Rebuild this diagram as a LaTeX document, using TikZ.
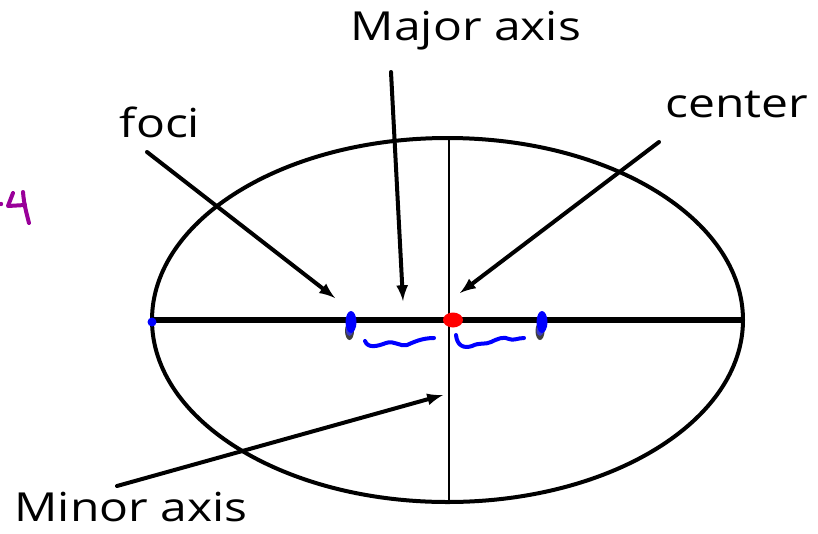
\documentclass[tikz,border=0pt]{standalone}
\usepackage{fontspec}
\setmainfont[FakeStretch=1.2]{Open Sans}
\usepackage{tikz}
\usetikzlibrary{arrows, positioning, calc}

\tikzset{
  label text/.style={font=\fontsize{30}{33}\selectfont, inner sep=0pt, anchor=base},
  pointer/.style={-latex, line width=3pt, line cap=round},
  scribble/.style={line width=3pt, line cap=round, line join=round}
}

\begin{document}
\begin{tikzpicture}[x=0.75pt, y=-0.75pt]
\useasboundingbox (0,0) rectangle (818,533);

% Ellipse and axes
\draw[line width=3pt] (447.5,320) ellipse [x radius=295.5, y radius=182];
\coordinate (left end) at (152,320);
\coordinate (right end) at (743,320);
\coordinate (top end) at (449,138);
\coordinate (bottom end) at (449,502);
\draw[line width=5pt] (left end) -- (right end);
\draw[line width=1.8pt] (top end) -- (bottom end);

% Labels
\node[label text] (major) at (466,40) {Major axis};
\node[label text] (foci) at (160,137) {foci};
\node[label text] (center) at (737,117) {center};
\node[label text] (minor) at (131,521) {Minor axis};

% Pointers
\coordinate (foci start) at (147,152);
\coordinate (foci tip) at (335,298);
\coordinate (major start) at (391,72);
\coordinate (major tip) at (403,301);
\coordinate (center start) at (659,142);
\coordinate (center tip) at (460,293);
\coordinate (minor start) at (117,486);
\coordinate (minor tip) at (443,395);
\draw[pointer] (foci start) -- (foci tip);
\draw[pointer] (major start) -- (major tip);
\draw[pointer] (center start) -- (center tip);
\draw[pointer] (minor start) -- (minor tip);

% Hand marks
\fill[blue] (left end) ++(0,2) circle [radius=4.5];
\fill[black!75] (349.5,331) ellipse [x radius=4.5, y radius=9];
\fill[blue!55!gray] (349.5,330) ellipse [x radius=3.5, y radius=6];
\fill[blue] (351,322) ellipse [x radius=5.5, y radius=11];
\fill[black!75] (540,331) ellipse [x radius=4.5, y radius=9];
\fill[blue!55!gray] (540,330) ellipse [x radius=3.5, y radius=6];
\fill[blue] (542,322) ellipse [x radius=5.5, y radius=11];
\fill[red] (453,320) ellipse [x radius=10, y radius=7.5];
\draw[scribble, blue] (365,341) .. controls (368,349) and (378,346) .. (386,343)
  .. controls (394,340) and (400,347) .. (407,345)
  .. controls (414,342) and (422,338) .. (434,338);
\draw[scribble, blue] (456,335) .. controls (457,345) and (463,349) .. (472,346)
  .. controls (480,342) and (485,345) .. (491,342)
  .. controls (497,339) and (504,336) .. (509,339)
  .. controls (513,341) and (518,338) .. (524,338);
\draw[scribble, violet!80!magenta] (13,193) -- (8,206) -- (25,205);
\draw[scribble, violet!80!magenta] (23,192) .. controls (24,205) and (27,215) .. (29,223);
\fill[violet!80!magenta] (1,204) circle [radius=2.2];
\end{tikzpicture}
\end{document}
